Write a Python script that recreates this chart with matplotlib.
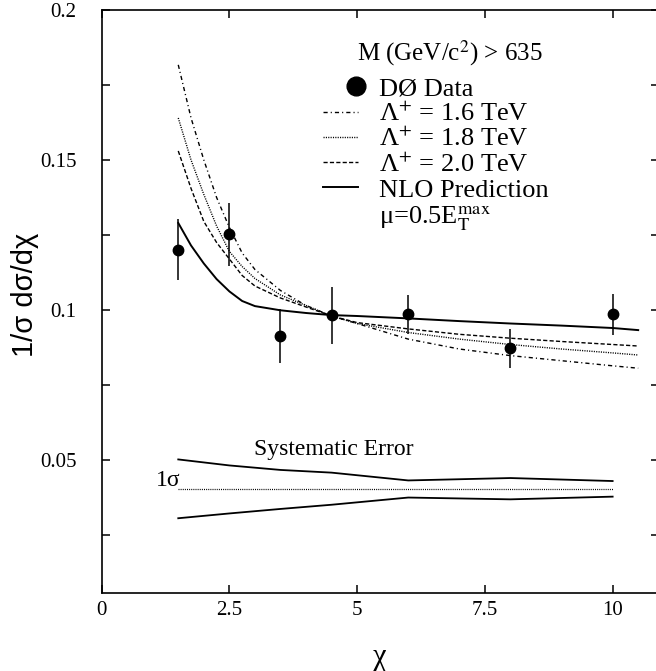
import matplotlib
matplotlib.use('Agg')
import matplotlib.pyplot as plt
from matplotlib.lines import Line2D
from matplotlib.legend_handler import HandlerLine2D
from matplotlib.ticker import MultipleLocator, FuncFormatter

plt.rcParams['font.family'] = ['Liberation Serif', 'DejaVu Serif']
plt.rcParams['mathtext.fontset'] = 'stix'

# D0 data points
chi_data = [1.5, 2.5, 3.5, 4.5, 6.0, 8.0, 10.0]
y_data = [0.1201, 0.1252, 0.0912, 0.0982, 0.0986, 0.0872, 0.0986]
y_err = [0.0101, 0.0105, 0.0090, 0.0094, 0.0065, 0.0064, 0.0068]

# theory curves
chi_curve = [1.5, 1.75, 2.0, 2.25, 2.5, 2.75, 3.0, 3.5, 4.0, 4.5, 5.0,
             6.0, 7.0, 8.0, 9.0, 10.0, 10.5]
lam16 = [0.1817, 0.164, 0.150, 0.1375, 0.1275, 0.119, 0.1135, 0.1065,
         0.1015, 0.098, 0.0955, 0.0903, 0.087, 0.0848, 0.0831, 0.0814, 0.0806]
lam18 = [0.164, 0.150, 0.1385, 0.128, 0.1195, 0.1145, 0.1105, 0.105,
         0.1015, 0.098, 0.0955, 0.0925, 0.0903, 0.0885, 0.087, 0.0857, 0.085]
lam20 = [0.153, 0.1405, 0.1295, 0.1225, 0.117, 0.1115, 0.108, 0.104,
         0.101, 0.098, 0.0958, 0.0937, 0.0919, 0.0906, 0.0895, 0.0885, 0.088]
nlo = [0.129, 0.1215, 0.1155, 0.1103, 0.1062, 0.103, 0.1013, 0.0999,
       0.099, 0.0983, 0.098, 0.0972, 0.0963, 0.0955, 0.0948, 0.094, 0.0933]

# systematic error band
sys_chi = [1.5, 2.5, 3.5, 4.5, 6.0, 8.0, 10.0]
sys_up = [0.0502, 0.0482, 0.0467, 0.0458, 0.0432, 0.0440, 0.0430]
sys_lo = [0.0306, 0.0322, 0.0337, 0.0351, 0.0375, 0.0369, 0.0378]
sys_mid = [0.0405] * len(sys_chi)

dashdot = (0, (3.0, 2.2, 0.8, 2.2))
dotted = (0, (0.8, 0.9))
dashed = (0, (3.0, 1.6))

fig = plt.figure(figsize=(6.56, 6.71), dpi=100)
ax = fig.add_axes([0.1549, 0.1163, 0.8491, 0.8689])

ax.plot(chi_curve, lam16, color='black', lw=1.0, ls=dashdot)
ax.plot(chi_curve, lam18, color='black', lw=1.0, ls=dotted)
ax.plot(chi_curve, lam20, color='black', lw=1.0, ls=dashed)
ax.plot(chi_curve, nlo, color='black', lw=1.4)
ax.errorbar(chi_data, y_data, yerr=y_err, fmt='o', color='black',
            ms=7.5, elinewidth=1.1, capsize=0)

ax.plot(sys_chi, sys_up, color='black', lw=1.3)
ax.plot(sys_chi, sys_lo, color='black', lw=1.3)
ax.plot(sys_chi, sys_mid, color='black', lw=0.9, ls=dotted)
ax.text(4.55, 0.0535, 'Systematic Error', fontsize=17, ha='center', va='center')
ax.text(1.55, 0.0433, '1σ', fontsize=17, ha='right', va='center')

ax.set_xlim(0, 10.9)
ax.set_ylim(0.0057, 0.2)
ax.xaxis.set_major_locator(MultipleLocator(2.5))
ax.xaxis.set_major_formatter(FuncFormatter(lambda v, _: '%g' % v))
ax.yaxis.set_major_locator(MultipleLocator(0.05))
ax.yaxis.set_minor_locator(MultipleLocator(0.025))
ax.yaxis.set_major_formatter(FuncFormatter(lambda v, _: '' if abs(v) < 1e-9 else '%g' % round(v, 3)))
ax.tick_params(which='both', direction='in', top=True, right=True,
               length=6, width=1.1, labelsize=15)
ax.tick_params(axis='x', pad=5.5)
ax.tick_params(axis='y', pad=18)
for s in ax.spines.values():
    s.set_linewidth(1.2)

ax.set_xlabel('χ', fontsize=22, labelpad=17)
fig.text(0.038, 0.56, '1/σ dσ/dχ', rotation=90, ha='center', va='center',
         fontsize=21, family=['Liberation Sans', 'DejaVu Sans'])

ax.text(0.6255, 0.926, 'M (GeV/c$^{2}$) > 635', transform=ax.transAxes,
        fontsize=18, ha='center', va='center')

data_handle = Line2D([], [], marker='o', ls='none', color='black', ms=13.5)
handles = [
    data_handle,
    Line2D([], [], color='black', lw=1.0, ls=dashdot),
    Line2D([], [], color='black', lw=1.0, ls=dotted),
    Line2D([], [], color='black', lw=1.0, ls=dashed),
    Line2D([], [], color='black', lw=1.4),
    Line2D([], [], ls='none'),
]
labels = ['DØ Data', 'Λ$^{+}$ = 1.6 TeV', 'Λ$^{+}$ = 1.8 TeV',
          'Λ$^{+}$ = 2.0 TeV', 'NLO Prediction',
          'μ=0.5E$_{\\mathrm{T}}^{\\mathrm{max}}$']
leg = ax.legend(handles, labels,
                loc='upper left', bbox_to_anchor=(0.397, 0.885),
                frameon=False, fontsize=19,
                handlelength=1.35, handletextpad=0.8, labelspacing=0.05,
                borderpad=0, borderaxespad=0,
                handler_map={data_handle: HandlerLine2D(xpad=1.2)})

fig.savefig('out.png', dpi=100)
